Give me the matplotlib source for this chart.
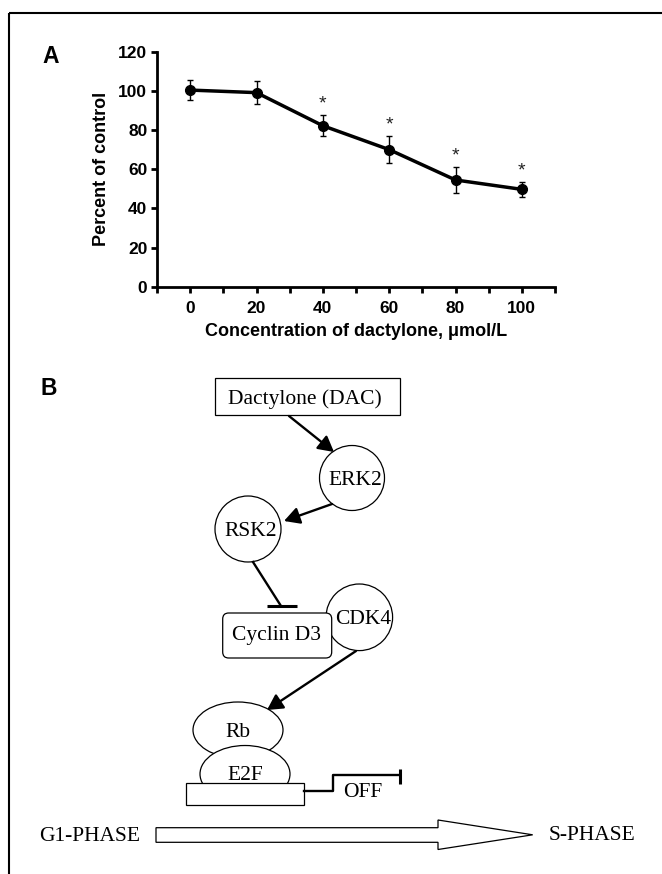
import matplotlib
matplotlib.use("Agg")
import matplotlib.pyplot as plt
from matplotlib.patches import Rectangle, Circle, Ellipse, FancyBboxPatch, FancyArrowPatch, Polygon
from matplotlib.ticker import MultipleLocator

# ---------------- data (panel A) ----------------
conc = [0, 20, 40, 60, 80, 100]
pct = [100.4, 99.1, 82.2, 70.0, 54.5, 49.7]
err = [5.3, 6.0, 5.4, 7.0, 6.4, 3.7]
significant = [False, False, True, True, True, True]
xticks = [0, 20, 40, 60, 80, 100]
yticks = [0, 20, 40, 60, 80, 100, 120]
xlabel = "Concentration of dactylone, \u03bcmol/L"
ylabel = "Percent of control"

# ---------------- labels (panel B) ----------------
lbl_dac = "Dactylone (DAC)"
lbl_erk = "ERK2"
lbl_rsk = "RSK2"
lbl_cdk = "CDK4"
lbl_cyc = "Cyclin D3"
lbl_rb = "Rb"
lbl_e2f = "E2F"
lbl_off = "OFF"
lbl_g1 = "G1-PHASE"
lbl_s = "S-PHASE"

W, H = 662, 874
fig = plt.figure(figsize=(W / 100, H / 100), dpi=100)
fig.patch.set_facecolor("white")

SANS = "Liberation Sans"
SERIF = "Liberation Serif"

# ---------------- overlay axes in pixel coordinates ----------------
ov = fig.add_axes([0, 0, 1, 1])
ov.set_xlim(0, W)
ov.set_ylim(H, 0)
ov.axis("off")

# figure frame (top and left)
ov.plot([9.3, W], [12.7, 12.7], color="black", lw=1.5, solid_capstyle="butt")
ov.plot([9.3, 9.3], [12.7, H], color="black", lw=1.5, solid_capstyle="butt")

# panel letters
ov.text(51, 55 + 8, "A", family=SANS, weight="bold", fontsize=16.5, ha="center", va="baseline")
ov.text(48.5, 387 + 8, "B", family=SANS, weight="bold", fontsize=16.5, ha="center", va="baseline")

# ---------------- panel A ----------------
axA = fig.add_axes([157 / W, 1 - 286.7 / H, (555 - 157) / W, (286.7 - 51.7) / H])
axA.set_facecolor("none")
axA.errorbar(conc, pct, yerr=err, color="black", lw=2.5, marker="o", ms=7,
             ecolor="black", elinewidth=1.0, capsize=2.5, capthick=1.0, zorder=3)
for x, y, e, s in zip(conc, pct, err, significant):
    if s:
        axA.text(x, y + e + 3.5, "*", family=SANS, fontsize=14, color="#222222",
                 ha="center", va="baseline")
axA.set_xlim(-10, 110)
axA.set_ylim(0, 120)
axA.set_xticks(xticks)
axA.xaxis.set_minor_locator(MultipleLocator(10))
axA.set_yticks(yticks)
for sp in ["top", "right"]:
    axA.spines[sp].set_visible(False)
for sp in ["left", "bottom"]:
    axA.spines[sp].set_linewidth(2)
axA.tick_params(axis="both", which="both", direction="out", length=4, width=2)
axA.tick_params(axis="x", which="major", pad=6)
axA.tick_params(axis="y", which="major", pad=3)
for lab in axA.get_xticklabels() + axA.get_yticklabels():
    lab.set_fontfamily(SANS)
    lab.set_fontweight("bold")
    lab.set_fontsize(12.5)
axA.set_xlabel(xlabel, family=SANS, weight="bold", fontsize=13, va="center")
axA.set_ylabel(ylabel, family=SANS, weight="bold", fontsize=13, va="center")
axA.xaxis.set_label_coords(0.5, -(332 - 286.7) / 235.0)
axA.yaxis.set_label_coords(-(157 - 101) / 398.0, 0.5)

# ---------------- panel B (diagram, pixel coordinates) ----------------
thin = 0.9
arrow_lw = 1.7


def ptext(x, y, s, size=15.5):
    # y is the visual centre of capital letters; convert to baseline
    ov.text(x, y + 0.33 * size * 100 / 72, s, family=SERIF, fontsize=size,
            ha="center", va="baseline", zorder=10)


def arrow(p0, p1):
    ov.add_patch(FancyArrowPatch(p0, p1, arrowstyle="-|>,head_length=0.55,head_width=0.3",
                                 mutation_scale=17, lw=arrow_lw, color="black",
                                 shrinkA=0, shrinkB=0, zorder=6))


# Dactylone box
ov.add_patch(Rectangle((215, 378), 185, 37, fc="white", ec="black", lw=thin, zorder=2))
ptext(305, 397, lbl_dac)
arrow((289, 416), (334, 452))

# ERK2
ov.add_patch(Circle((352, 478), 32.5, fc="white", ec="black", lw=thin, zorder=2))
ptext(355, 478, lbl_erk)
arrow((332, 504), (284, 521))

# RSK2
ov.add_patch(Circle((248, 529), 33, fc="white", ec="black", lw=thin, zorder=2))
ptext(251, 529, lbl_rsk)

# inhibition RSK2 -> Cyclin D3
ov.plot([253, 281], [562, 606], color="black", lw=arrow_lw, zorder=5)
ov.plot([267, 297], [606, 606], color="black", lw=2.2, solid_capstyle="butt", zorder=5)

# CDK4 circle, Cyclin D3 rounded box on top
ov.add_patch(Circle((359.3, 617.3), 33.3, fc="white", ec="black", lw=thin, zorder=2))
ov.add_patch(FancyBboxPatch((222.7 + 6, 613 + 6), 109 - 12, 45 - 12,
                            boxstyle="round,pad=6", fc="white", ec="black", lw=thin, zorder=3))
ptext(363, 617, lbl_cdk)
ptext(277, 633, lbl_cyc)
arrow((356, 651), (267, 710))

# Rb / E2F / DNA box
ov.add_patch(Ellipse((238, 730), 90, 56, fc="white", ec="black", lw=thin, zorder=2))
ptext(238, 730, lbl_rb)
ov.add_patch(Ellipse((245, 774), 90, 57, fc="white", ec="black", lw=thin, zorder=3))
ptext(245, 773, lbl_e2f)
ov.add_patch(Rectangle((185.7, 783), 118.3, 22, fc="white", ec="black", lw=thin, zorder=4))

# OFF connector
ov.plot([304, 333, 333, 400], [790.7, 790.7, 775, 775], color="black", lw=1.7, zorder=5)
ov.plot([400, 400], [768.5, 783.5], color="black", lw=2.2, solid_capstyle="butt", zorder=5)
ptext(363, 790, lbl_off)

# G1 -> S big hollow arrow
arrow_poly = [(156, 827.7), (438, 827.7), (438, 820), (532.7, 834.8),
              (438, 849.5), (438, 842.3), (156, 842.3)]
ov.add_patch(Polygon(arrow_poly, closed=True, fc="white", ec="black", lw=thin, zorder=2))
ptext(89.5, 833.5, lbl_g1)
ptext(592, 832.5, lbl_s)

fig.savefig("out.png", dpi=100, facecolor="white")
